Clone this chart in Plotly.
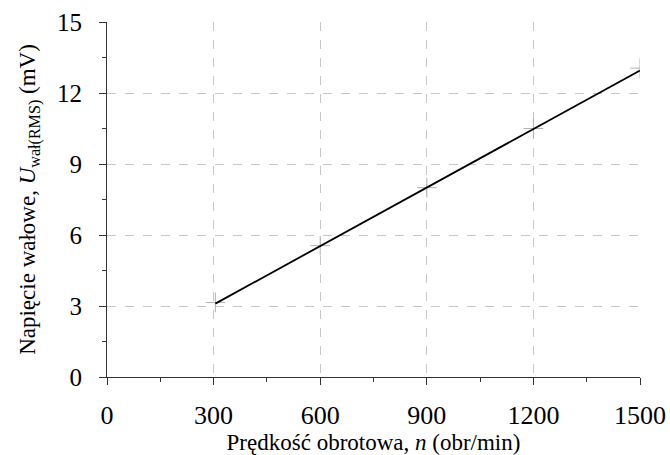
import plotly.graph_objects as go

# measured points
speed_n = [305, 600, 900, 1200, 1500]
voltage_u = [3.15, 5.55, 8.0, 10.5, 13.05]
# fitted line endpoints
fit_n = [305, 1500]
fit_u = [3.1, 12.95]

x_ticks = [0, 300, 600, 900, 1200, 1500]
y_ticks = [0, 3, 6, 9, 12, 15]

FONT = "Liberation Serif"

fig = go.Figure()
fig.add_trace(go.Scatter(
    x=speed_n, y=voltage_u, mode="markers",
    marker=dict(symbol="cross-thin", size=14, line=dict(width=1, color="#b0b0b0")),
    showlegend=False, hoverinfo="skip"))
fig.add_trace(go.Scatter(
    x=fit_n, y=fit_u, mode="lines",
    line=dict(color="black", width=1.8), showlegend=False))

fig.update_layout(
    width=670, height=455,
    margin=dict(l=107, r=30, t=22, b=78),
    plot_bgcolor="white", paper_bgcolor="white",
    font=dict(family=FONT, size=24, color="black"),
    xaxis=dict(
        range=[0, 1500], tickmode="array", tickvals=x_ticks,
        ticktext=[str(v) for v in x_ticks], automargin=False,
        showline=True, linecolor="#333", linewidth=1.2,
        ticks="outside", ticklen=7, tickcolor="#333", tickwidth=1.2,
        showgrid=True, gridcolor="#c8c8c8", griddash="dash", gridwidth=1,
        zeroline=False,
        tickfont=dict(family=FONT, size=26, color="black"),
        ticklabelstandoff=8,
        minor=dict(ticklen=4, dtick=150, tick0=0, ticks="outside", tickcolor="#333", showgrid=False),
        title=dict(text="Prędkość obrotowa, <i>n</i> (obr/min)",
                   font=dict(family=FONT, size=23, color="black"), standoff=0),
    ),
    yaxis=dict(
        range=[0, 15], tickmode="array", tickvals=y_ticks,
        ticktext=[str(v) for v in y_ticks], automargin=False,
        showline=True, linecolor="#333", linewidth=1.2,
        ticks="outside", ticklen=7, tickcolor="#333", tickwidth=1.2,
        showgrid=True, gridcolor="#c8c8c8", griddash="dash", gridwidth=1,
        zeroline=False,
        tickfont=dict(family=FONT, size=25, color="black"),
        ticklabelstandoff=12,
        minor=dict(ticklen=4, dtick=1.5, tick0=0, ticks="outside", tickcolor="#333", showgrid=False),
        title=dict(text="Napięcie wałowe, <i>U</i><sub>wał(RMS)</sub> (mV)",
                   font=dict(family=FONT, size=23, color="black"), standoff=14),
    ),
)

fig.write_html("out.html")
